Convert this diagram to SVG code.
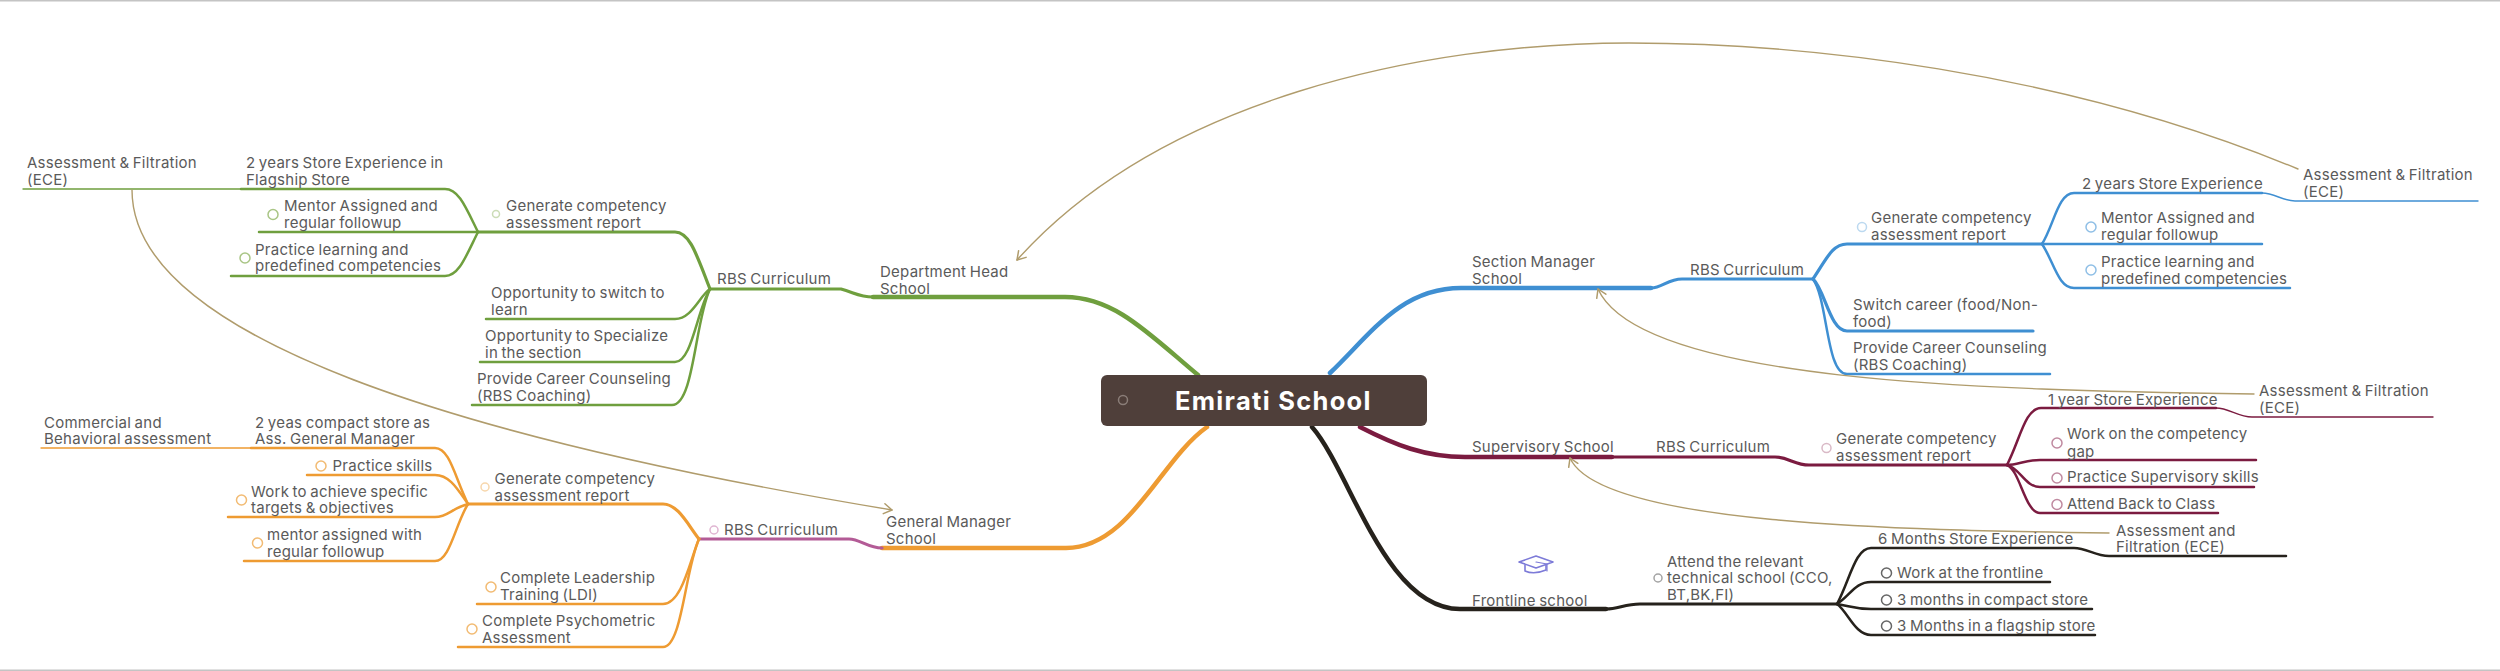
<svg xmlns="http://www.w3.org/2000/svg" width="2500" height="671" viewBox="0 0 2500 671">
<style>
text{font-family:"Inter","Noto Sans","Liberation Sans",sans-serif;font-size:15px;letter-spacing:.25px;word-spacing:-1px;fill:#5a5a5a}
#root text{font-size:25.5px;font-weight:700;letter-spacing:1.3px;word-spacing:0;fill:#fff}
path{fill:none;stroke-linecap:round;stroke-linejoin:round}
.g{stroke:#6f9f3e}.b{stroke:#3f8fd2}.m{stroke:#7b1b40}.k{stroke:#26221c}.o{stroke:#ee9b32}.p{stroke:#b35b96}
.w1{stroke-width:1.4}.w2{stroke-width:2.5}.w3{stroke-width:3.2}.w4{stroke-width:4.5}
.rel{stroke:#b09c6c;stroke-width:1.4;marker-end:url(#chev)}
circle{fill:none;stroke-width:1.5}
.cg{stroke:#a9c585}.cb{stroke:#8fbfe6}.cm{stroke:#c08aa0}.ck{stroke:#666}.co{stroke:#f2bb73}.cp{stroke:#e0b5d2}
.faint{opacity:.6}
</style>
<defs>
<marker id="chev" markerUnits="userSpaceOnUse" markerWidth="16" markerHeight="16" refX="12" refY="8" orient="auto"><path d="M4,3 L12,8 L4,13" stroke="#b09c6c" stroke-width="1.5"/></marker>
</defs>
<rect x="0" y="0" width="2500" height="1.5" fill="#c4c4c4"/>
<rect x="0" y="669.5" width="2500" height="1.5" fill="#c4c4c4"/>
<g id="connectors">
<path class="g w4" d="M1198,375 C1150,335 1115,297 1065,297 L873,297"/>
<path class="g w3" d="M873,297 C860,297 855,293 841,289 L710,289"/>
<path class="g w3" d="M710,289 C697,256 690,232 675,232 L478,232"/>
<path class="g w2" d="M710,289 C700,295 692,319 675,319 L486,319"/>
<path class="g w2" d="M710,289 C697,310 692,362 675,362 L480,362"/>
<path class="g w2" d="M710,289 C695,320 694,405 672,405 L472,405"/>
<path class="g w2" d="M478,232 C466,208 459,189 445,189 L241,189"/>
<path class="g w1" d="M241,189 L23,189"/>
<path class="g w2" d="M478,232 L259,232"/>
<path class="g w2" d="M478,232 C466,256 459,276 445,276 L231,276"/>

<path class="o w4" d="M1207,427 C1160,460 1130,548 1066,548 L882,548"/>
<path class="p w3" d="M882,548 C868,548 860,539 849,539 L699,539"/>
<path class="o w3" d="M699,539 C688,525 678,504 663,504 L468,504"/>
<path class="o w2" d="M699,539 C690,560 682,604 663,604 L477,604"/>
<path class="o w2" d="M699,539 C685,570 682,647 663,647 L458,647"/>
<path class="o w2" d="M468,504 C455,478 450,448 435,448 L251,448"/>
<path class="o w1" d="M251,448 L41,448"/>
<path class="o w2" d="M468,504 C458,490 450,475 435,475 L307,475"/>
<path class="o w2" d="M468,504 C452,508 448,517 435,517 L228,517"/>
<path class="o w2" d="M468,504 C455,525 450,561 435,561 L244,561"/>

<path class="b w4" d="M1330,373 C1370,335 1400,288 1461,288 L1651,288"/>
<path class="b w3" d="M1651,288 C1662,288 1668,279 1682,279 L1813,279"/>
<path class="b w3" d="M1813,279 C1826,260 1832,244 1847,244 L2042,244"/>
<path class="b w3" d="M1813,279 C1825,290 1830,331 1847,331 L2033,331"/>
<path class="b w2" d="M1813,279 C1828,300 1826,374 1847,374 L2050,374"/>
<path class="b w2" d="M2042,244 C2054,225 2058,193 2074,193 L2262,193"/>
<path class="b w1" d="M2262,193 C2275,193 2282,201 2295,201 L2478,201"/>
<path class="b w2" d="M2042,244 L2262,244"/>
<path class="b w2" d="M2042,244 C2054,262 2058,288 2074,288 L2290,288"/>

<path class="m w4" d="M1360,427 C1395,445 1425,457 1465,457 L1612,457"/>
<path class="m w3" d="M1612,457 L1775,457 C1788,457 1795,465 1809,465 L2007,465"/>
<path class="m w2" d="M2007,465 C2020,440 2025,408 2041,408 L2216,408"/>
<path class="m w1" d="M2216,408 C2229,408 2238,417 2252,417 L2433,417"/>
<path class="m w2" d="M2007,465 C2018,465 2025,460 2040,460 L2256,460"/>
<path class="m w2" d="M2007,465 C2020,468 2025,487 2040,487 L2254,487"/>
<path class="m w2" d="M2007,465 C2020,470 2025,513 2040,513 L2218,513"/>

<path class="k w4" d="M1312,427 C1350,470 1385,609 1460,609 L1606,609"/>
<path class="k w3" d="M1606,609 C1618,609 1625,604 1640,604 L1837,604"/>
<path class="k w2" d="M1837,604 C1850,580 1855,548 1871,548 L2074,548 C2087,548 2095,556 2109,556 L2286,556"/>
<path class="k w2" d="M1837,604 C1850,596 1855,582 1871,582 L2050,582"/>
<path class="k w2" d="M1837,604 C1850,606 1855,609 1871,609 L2092,609"/>
<path class="k w2" d="M1837,604 C1848,612 1855,635 1871,635 L2095,635"/>

<path class="rel" d="M2298,169 C2060,70 1800,43 1629,43 C1420,43 1160,100 1017,260"/>
<path class="rel" d="M2254,394 C1980,390 1640,382 1598,289"/>
<path class="rel" d="M2109,533 C1900,530 1600,525 1570,458"/>
<path class="rel" d="M132,190 C132,340 470,440 892,510"/>
</g>

<g id="root">
<rect x="1101" y="375" width="326" height="51" rx="6" fill="#4f3f3a"/>
<circle cx="1123" cy="400" r="4.5" stroke="#8a7d78" stroke-width="2"/>
<text x="1175" y="410">Emirati School</text>
</g>

<g id="dept-head"><text x="880" y="277">Department Head</text><text x="880" y="294">School</text></g>
<g id="dh-rbs"><text x="717" y="284">RBS Curriculum</text></g>
<g id="dh-gen"><circle class="cg faint" cx="496" cy="214" r="3.5"/><text x="506" y="211">Generate competency</text><text x="506" y="227.5">assessment report</text></g>
<g id="dh-2y"><text x="246" y="168">2 years Store Experience in</text><text x="246" y="184.5">Flagship Store</text></g>
<g id="dh-ece"><text x="27" y="168">Assessment &amp; Filtration</text><text x="27" y="184.5">(ECE)</text></g>
<g id="dh-mentor"><circle class="cg" cx="273" cy="214.5" r="5"/><text x="284" y="211">Mentor Assigned and</text><text x="284" y="227.5">regular followup</text></g>
<g id="dh-practice"><circle class="cg" cx="245" cy="258" r="5"/><text x="255" y="254.5">Practice learning and</text><text x="255" y="271">predefined competencies</text></g>
<g id="dh-switch"><text x="491" y="298">Opportunity to switch to</text><text x="491" y="314.5">learn</text></g>
<g id="dh-spec"><text x="485" y="341">Opportunity to Specialize</text><text x="485" y="357.5">in the section</text></g>
<g id="dh-career"><text x="477" y="384">Provide Career Counseling</text><text x="477" y="400.5">(RBS Coaching)</text></g>

<g id="gm"><text x="886" y="527">General Manager</text><text x="886" y="544">School</text></g>
<g id="gm-rbs"><circle class="cp" cx="714" cy="530" r="4"/><text x="724" y="535">RBS Curriculum</text></g>
<g id="gm-gen"><circle class="co faint" cx="485" cy="487" r="4"/><text x="494.5" y="483.5">Generate competency</text><text x="494.5" y="500.5">assessment report</text></g>
<g id="gm-2y"><text x="255" y="427.5">2 yeas compact store as</text><text x="255" y="444">Ass. General Manager</text></g>
<g id="gm-comm"><text x="44" y="427.5">Commercial and</text><text x="44" y="444">Behavioral assessment</text></g>
<g id="gm-skills"><circle class="co" cx="321" cy="466" r="5"/><text x="332.5" y="470.5">Practice skills</text></g>
<g id="gm-work"><circle class="co" cx="241.5" cy="500" r="5"/><text x="251" y="496.5">Work to achieve specific</text><text x="251" y="513">targets &amp; objectives</text></g>
<g id="gm-mentor"><circle class="co" cx="257.5" cy="543" r="5"/><text x="267" y="540">mentor assigned with</text><text x="267" y="556.5">regular followup</text></g>
<g id="gm-ldi"><circle class="co" cx="491" cy="587" r="5"/><text x="500" y="583">Complete Leadership</text><text x="500" y="599.5">Training (LDI)</text></g>
<g id="gm-psy"><circle class="co" cx="472" cy="629" r="5"/><text x="482" y="626">Complete Psychometric</text><text x="482" y="643">Assessment</text></g>

<g id="section"><text x="1472" y="267">Section Manager</text><text x="1472" y="283.5">School</text></g>
<g id="sm-rbs"><text x="1690" y="275">RBS Curriculum</text></g>
<g id="sm-gen"><circle class="cb faint" cx="1862" cy="227" r="4.5"/><text x="1871" y="223">Generate competency</text><text x="1871" y="239.5">assessment report</text></g>
<g id="sm-2y"><text x="2082" y="188.5">2 years Store Experience</text></g>
<g id="sm-ece"><text x="2303" y="180">Assessment &amp; Filtration</text><text x="2303" y="196.5">(ECE)</text></g>
<g id="sm-mentor"><circle class="cb" cx="2091" cy="227" r="5"/><text x="2101" y="223">Mentor Assigned and</text><text x="2101" y="239.5">regular followup</text></g>
<g id="sm-practice"><circle class="cb" cx="2091" cy="270" r="5"/><text x="2101" y="267">Practice learning and</text><text x="2101" y="283.5">predefined competencies</text></g>
<g id="sm-switch"><text x="1853" y="310">Switch career (food/Non-</text><text x="1853" y="326.5">food)</text></g>
<g id="sm-career"><text x="1853" y="353">Provide Career Counseling</text><text x="1853" y="369.5">(RBS Coaching)</text></g>

<g id="supervisory"><text x="1472" y="451.5">Supervisory School</text></g>
<g id="sv-rbs"><text x="1656" y="451.5">RBS Curriculum</text></g>
<g id="sv-gen"><circle class="cm faint" cx="1826.5" cy="448" r="4.5"/><text x="1836" y="444">Generate competency</text><text x="1836" y="461">assessment report</text></g>
<g id="sv-1y"><text x="2048" y="404.5">1 year Store Experience</text></g>
<g id="sv-ece"><text x="2259" y="396">Assessment &amp; Filtration</text><text x="2259" y="413">(ECE)</text></g>
<g id="sv-work"><circle class="cm" cx="2057" cy="443" r="5"/><text x="2067" y="439">Work on the competency</text><text x="2067" y="456.5">gap</text></g>
<g id="sv-practice"><circle class="cm" cx="2057" cy="478" r="5"/><text x="2067" y="482">Practice Supervisory skills</text></g>
<g id="sv-back"><circle class="cm" cx="2057" cy="504.5" r="5"/><text x="2067" y="508.5">Attend Back to Class</text></g>

<g id="frontline">
<path d="M1519,562 L1536,556 L1553,562 L1536,568 Z" stroke="#7d7bd8" stroke-width="1.6" fill="#f1f0fb"/>
<path d="M1525,565 V571 Q1534,575 1546,570 V565" stroke="#7d7bd8" stroke-width="1.6"/>
<path d="M1536,562 L1547,564 V571" stroke="#7d7bd8" stroke-width="1.2"/>
<circle cx="1543" cy="575" r="2.2" fill="#6fa6dc" stroke="none"/>
<text x="1472" y="606">Frontline school</text>
</g>
<g id="fl-tech"><circle class="ck faint" cx="1658" cy="578" r="4"/><text x="1667" y="567">Attend the relevant</text><text x="1667" y="583">technical school (CCO,</text><text x="1667" y="600">BT,BK,FI)</text></g>
<g id="fl-6m"><text x="1878" y="543.5">6 Months Store Experience</text></g>
<g id="fl-ece"><text x="2116" y="535.5">Assessment and</text><text x="2116" y="552">Filtration (ECE)</text></g>
<g id="fl-work"><circle class="ck" cx="1886.5" cy="573" r="5"/><text x="1897" y="578">Work at the frontline</text></g>
<g id="fl-3c"><circle class="ck" cx="1886.5" cy="600" r="5"/><text x="1897" y="604.5">3 months in compact store</text></g>
<g id="fl-3f"><circle class="ck" cx="1886.5" cy="626" r="5"/><text x="1897" y="630.5">3 Months in a flagship store</text></g>
</svg>
